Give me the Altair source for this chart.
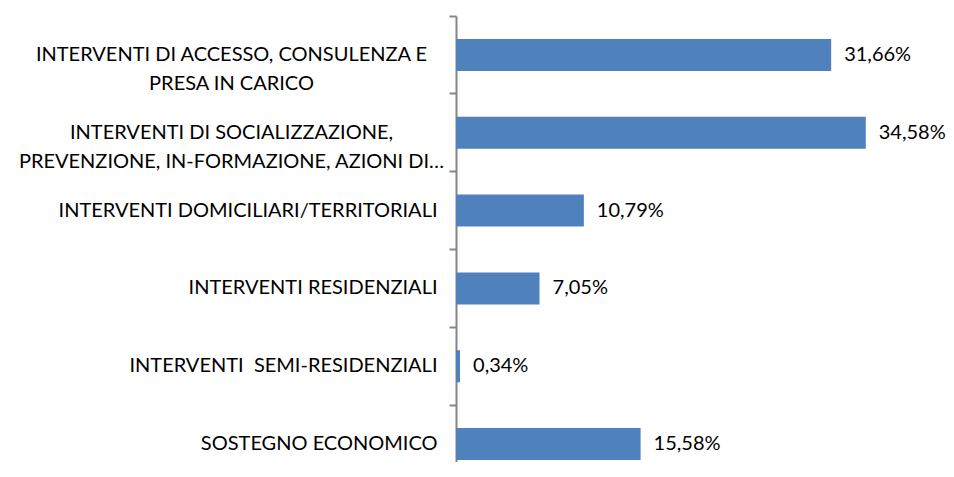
import altair as alt
import pandas as pd

categories = [
    "INTERVENTI DI ACCESSO, CONSULENZA E|PRESA IN CARICO",
    "INTERVENTI DI SOCIALIZZAZIONE,|PREVENZIONE, IN-FORMAZIONE, AZIONI DI\u2026",
    "INTERVENTI DOMICILIARI/TERRITORIALI",
    "INTERVENTI RESIDENZIALI",
    "INTERVENTI \u00a0SEMI-RESIDENZIALI",
    "SOSTEGNO ECONOMICO",
]
values = [31.66, 34.58, 10.79, 7.05, 0.34, 15.58]

df = pd.DataFrame({"cat": categories, "val": values})

FONT = "Lato"
FS = 20

y_enc = alt.Y(
    "cat:N",
    sort=None,
    scale=alt.Scale(paddingInner=0, paddingOuter=0, range=[0, 467]),
    axis=alt.Axis(
        title=None,
        bandPosition=0,
        tickSize=7,
        tickWidth=2,
        tickColor="#868686",
        domainColor="#868686",
        domainWidth=2,
        labelFont=FONT,
        labelFontSize=FS,
        labelColor="#000000",
        labelLimit=0,
        labelLineHeight=29.5,
        labelExpr="split(datum.label, '|')",
        labelAlign={"condition": {"test": "indexof(datum.value, '|') >= 0", "value": "center"}, "value": "right"},
        labelPadding={"condition": {"test": "indexof(datum.value, '|') >= 0", "value": 218}, "value": 12},
    ),
)

bars = alt.Chart(df).mark_bar(color="#4f81bd", size=32).encode(
    x=alt.X("val:Q", axis=None, scale=alt.Scale(domain=[0, 40], nice=False)),
    y=y_enc,
)

labels = alt.Chart(df).transform_calculate(
    lab="replace(format(datum.val, '.2f'), '.', ',') + '%'"
).mark_text(align="left", baseline="middle", dx=13, font=FONT, fontSize=FS, color="#000000").encode(
    x=alt.X("val:Q", axis=None, scale=alt.Scale(domain=[0, 40], nice=False)),
    y=alt.Y("cat:N", sort=None),
    text="lab:N",
)

chart = alt.layer(bars, labels).properties(
    width=474,
    height=446,
    autosize=alt.AutoSizeParams(type="none"),
    padding={"left": 448, "top": 8, "right": 16, "bottom": 0},
).configure_view(stroke=None)

chart.save("out.html", embed_options={"renderer": "svg", "actions": False})
